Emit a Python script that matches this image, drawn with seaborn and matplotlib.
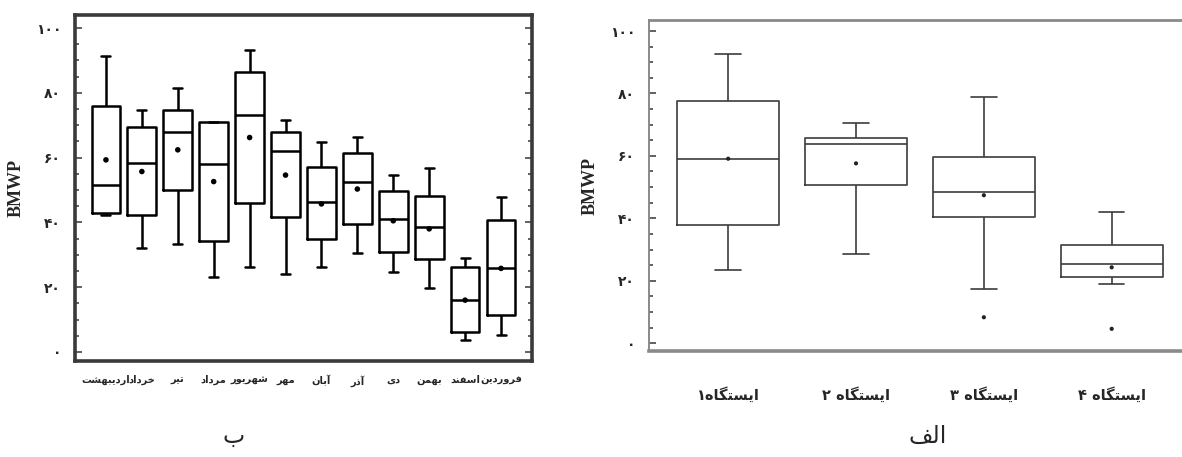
import numpy as np
import pandas as pd
import matplotlib
matplotlib.use("Agg")
import matplotlib.pyplot as plt
import seaborn as sns
from matplotlib.ticker import FixedLocator, MultipleLocator

sns.set_theme(style="ticks")
plt.rcParams["font.family"] = ["DejaVu Sans"]

# ---------------------------------------------------------------
# data: five-number summary + mean per box
# ---------------------------------------------------------------
# panel "ب" : months
months = ["اردیبهشت", "خرداد", "تیر", "مرداد", "شهریور", "مهر",
          "آبان", "آذر", "دی", "بهمن", "اسفند", "فروردین"]
month_low = [42.3, 32.2, 33.2, 23.0, 26.1, 24.0, 26.1, 30.7, 24.7, 19.6, 3.6, 5.2]
month_q1 = [42.8, 42.3, 50.0, 34.3, 45.9, 41.8, 34.8, 39.5, 30.9, 28.6, 6.2, 11.3]
month_med = [51.5, 58.2, 68.0, 58.0, 73.0, 61.9, 46.2, 52.4, 41.2, 38.5, 16.0, 25.8]
month_q3 = [75.8, 69.4, 74.7, 70.9, 86.4, 68.0, 57.0, 61.3, 49.8, 48.1, 26.3, 40.7]
month_high = [91.4, 74.7, 81.4, 70.9, 93.1, 71.6, 64.9, 66.3, 54.6, 56.7, 28.9, 47.7]
month_mean = [59.3, 55.7, 62.4, 52.6, 66.2, 54.6, 45.7, 50.3, 40.5, 38.0, 16.0, 25.8]

# panel "الف" : stations
stations = ["ایستگاه۱", "ایستگاه ۲", "ایستگاه ۳", "ایستگاه ۴"]
station_low = [23.4, 28.5, 17.3, 19.1]
station_q1 = [37.9, 50.6, 40.4, 21.3]
station_med = [59.1, 63.8, 48.5, 25.3]
station_q3 = [77.7, 65.7, 59.7, 31.5]
station_high = [92.7, 70.5, 79.0, 42.1]
station_mean = [59.1, 57.6, 47.4, 24.3]
outlier_station = ["ایستگاه ۳", "ایستگاه ۴"]
outlier_value = [8.3, 4.6]

y_ticks = [0, 20, 40, 60, 80, 100]
y_tick_labels = ["۰", "۲۰", "۴۰", "۶۰", "۸۰", "۱۰۰"]
panel_labels = ["ب", "الف"]

# ---------------------------------------------------------------
# tiny Persian shaper (matplotlib has no complex text layout)
# isolated, final, initial, medial presentation forms
# ---------------------------------------------------------------
FORMS = {
    "ا": (0xFE8D, 0xFE8E, None, None),
    "آ": (0xFE81, 0xFE82, None, None),
    "ب": (0xFE8F, 0xFE90, 0xFE91, 0xFE92),
    "ت": (0xFE95, 0xFE96, 0xFE97, 0xFE98),
    "خ": (0xFEA5, 0xFEA6, 0xFEA7, 0xFEA8),
    "د": (0xFEA9, 0xFEAA, None, None),
    "ذ": (0xFEAB, 0xFEAC, None, None),
    "ر": (0xFEAD, 0xFEAE, None, None),
    "س": (0xFEB1, 0xFEB2, 0xFEB3, 0xFEB4),
    "ش": (0xFEB5, 0xFEB6, 0xFEB7, 0xFEB8),
    "ف": (0xFED1, 0xFED2, 0xFED3, 0xFED4),
    "ل": (0xFEDD, 0xFEDE, 0xFEDF, 0xFEE0),
    "م": (0xFEE1, 0xFEE2, 0xFEE3, 0xFEE4),
    "ن": (0xFEE5, 0xFEE6, 0xFEE7, 0xFEE8),
    "ه": (0xFEE9, 0xFEEA, 0xFEEB, 0xFEEC),
    "و": (0xFEED, 0xFEEE, None, None),
    "ی": (0xFBFC, 0xFBFD, 0xFBFE, 0xFBFF),
    "گ": (0xFB92, 0xFB93, 0xFB94, 0xFB95),
}


def shape(text):
    out = []
    for i, ch in enumerate(text):
        if ch not in FORMS:
            out.append(ch)
            continue
        f = FORMS[ch]
        prev = text[i - 1] if i > 0 else None
        nxt = text[i + 1] if i + 1 < len(text) else None
        join_prev = prev in FORMS and FORMS[prev][2] is not None
        join_next = f[2] is not None and nxt in FORMS
        if join_prev and join_next:
            code = f[3]
        elif join_prev:
            code = f[1]
        elif join_next:
            code = f[2]
        else:
            code = f[0]
        out.append(chr(code))
    return "".join(reversed(out))


def five_num_frame(cats, low, q1, med, q3, high):
    rows = []
    for i, c in enumerate(cats):
        for v in (low[i], q1[i], med[i], q3[i], high[i]):
            rows.append({"group": c, "bmwp": v})
    return pd.DataFrame(rows)


df_months = five_num_frame(months, month_low, month_q1, month_med, month_q3, month_high)
df_stations = five_num_frame(stations, station_low, station_q1, station_med,
                             station_q3, station_high)

fig = plt.figure(figsize=(11.82, 4.57), dpi=100)
ax_b = fig.add_axes([0.0635, 0.21, 0.3865, 0.757])
ax_a = fig.add_axes([0.549, 0.232, 0.451, 0.724])

# ---------------------------------------------------------------
# panel ب (months)
# ---------------------------------------------------------------
sns.boxplot(data=df_months, x="group", y="bmwp", ax=ax_b, whis=(0, 100),
            fill=False, color="black", linewidth=1.8, width=0.8,
            capwidths=0.25)
sns.scatterplot(x=np.arange(len(months)), y=month_mean, ax=ax_b,
                color="black", s=16, edgecolor="none", legend=False, zorder=5)
ax_b.set_xlim(-0.86, len(months) - 1 + 0.86)
ax_b.set_ylim(-2.8, 104)
ax_b.set_xticks(np.arange(len(months)))
ax_b.set_xticklabels([shape(m) for m in months], fontsize=7.1, fontweight="bold")
ax_b.tick_params(axis="x", length=0, pad=10)
for side in ax_b.spines.values():
    side.set_linewidth(2.6)
    side.set_color("#3a3a3a")

# ---------------------------------------------------------------
# panel الف (stations)
# ---------------------------------------------------------------
sns.boxplot(data=df_stations, x="group", y="bmwp", ax=ax_a, whis=(0, 100),
            fill=False, color="#3c3c3c", linewidth=1.2, width=0.8,
            capwidths=0.2)
sns.scatterplot(x=np.arange(len(stations)), y=station_mean, ax=ax_a,
                color="#222222", s=9, edgecolor="none", legend=False, zorder=5)
sns.scatterplot(x=[stations.index(s) for s in outlier_station], y=outlier_value,
                ax=ax_a, color="#222222", s=9, edgecolor="none", legend=False,
                zorder=5)
ax_a.set_xlim(-0.62, 3.55)
ax_a.set_ylim(-2.5, 103.5)
ax_a.set_xticks(np.arange(len(stations)))
ax_a.set_xticklabels([shape(s) for s in stations], fontsize=10.5, fontweight="bold")
ax_a.tick_params(axis="x", length=0, pad=26)
ax_a.spines["right"].set_visible(False)
ax_a.spines["top"].set_linewidth(2.0)
ax_a.spines["bottom"].set_linewidth(2.6)
ax_a.spines["left"].set_linewidth(1.4)
for side in ax_a.spines.values():
    side.set_color("#8a8a8a")

# shared y styling
for ax, right_ticks in ((ax_b, True), (ax_a, False)):
    ax.yaxis.set_major_locator(FixedLocator(y_ticks))
    ax.set_yticklabels(y_tick_labels, fontsize=10, fontweight="bold")
    ax.yaxis.set_minor_locator(MultipleLocator(5))
    ax.tick_params(axis="y", which="both", direction="in", left=True,
                   right=right_ticks, color="#555555", pad=10)
    ax.tick_params(axis="y", which="major", length=5, width=1.3)
    ax.tick_params(axis="y", which="minor", length=3, width=1.3)
    ax.set_xlabel("")
    ax.set_ylabel("BMWP", family="Liberation Serif", fontweight="bold",
                  fontsize=13, labelpad=8)

fig.text(0.198, 0.03, shape(panel_labels[0]), fontsize=17, ha="center")
fig.text(0.785, 0.03, shape(panel_labels[1]), fontsize=17, ha="center")

fig.savefig("out.png", dpi=100)
